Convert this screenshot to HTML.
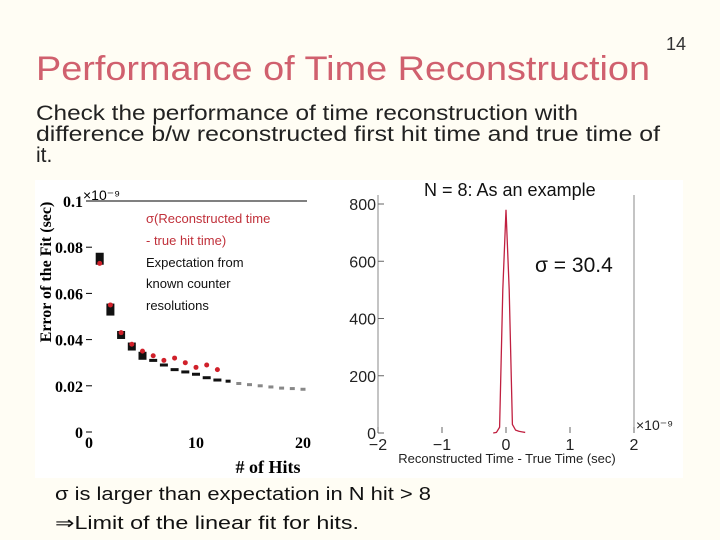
<!DOCTYPE html>
<html><head><meta charset="utf-8"><style>
body{margin:0;background:#fffdf4;}
svg{display:block;font-family:"Liberation Sans",sans-serif;}
</style></head><body>
<svg id="s" width="720" height="540" viewBox="0 0 720 540">
<rect width="720" height="540" fill="#fffdf4"/>
<text x="666" y="50" font-size="18" fill="#333">14</text>
<text x="36" y="80" font-size="34" fill="#d0606e" textLength="614" lengthAdjust="spacingAndGlyphs">Performance of Time Reconstruction</text>
<g font-size="21" fill="#222">
<text x="36" y="120" textLength="542" lengthAdjust="spacingAndGlyphs">Check the performance of time reconstruction with</text>
<text x="36" y="141" textLength="624" lengthAdjust="spacingAndGlyphs">difference b/w reconstructed first hit time and true time of</text>
<text x="36" y="162">it.</text>
</g>
<rect x="35" y="180" width="648" height="298" fill="#fff"/>
<g id="left"></g>
<g id="right"></g>
<text x="424" y="196" font-size="18" fill="#111">N = 8: As an example</text>
<text x="535" y="272" font-size="21" fill="#111">σ = 30.4</text>
<g font-size="18" fill="#111">
<text x="55" y="500" textLength="376" lengthAdjust="spacingAndGlyphs">σ is larger than expectation in N hit &gt; 8</text>
<text x="55" y="529" textLength="304" lengthAdjust="spacingAndGlyphs">⇒Limit of the linear fit for hits.</text>
</g>
</svg>
<script>
const hitsRed=[1,2,3,4,5,6,7,8,9,10,11,12];
const sigmaRed=[0.073,0.055,0.043,0.038,0.035,0.033,0.031,0.032,0.030,0.028,0.029,0.027];
const hitsExp=[1,2,3,4,5,6,7,8,9,10,11,12,13,14,15,16,17,18,19,20];
const sigmaExp=[0.075,0.053,0.042,0.037,0.033,0.031,0.029,0.027,0.026,0.025,0.0235,0.0225,0.022,0.021,0.0205,0.020,0.0195,0.019,0.0188,0.0185];
const yTicksL=[0,0.02,0.04,0.06,0.08,0.1];
const xTicksL=[0,10,20];
const binCenters=[-0.15,-0.1,-0.05,0,0.05,0.1,0.15,0.2,0.25,0.3];
const binCounts=[2,20,500,780,500,30,10,6,4,2];
const yTicksR=[0,200,400,600,800];
const xTicksR=[-2,-1,0,1,2];
const NS='http://www.w3.org/2000/svg';
function mk(p,t,a,txt){const e=document.createElementNS(NS,t);for(const k in a)e.setAttribute(k,a[k]);if(txt!==undefined)e.textContent=txt;p.appendChild(e);return e;}
const L=document.getElementById('left');
const lx=v=>89+v*(303-89)/20, ly=v=>432-v*(432-201)/0.1;
mk(L,'line',{x1:89,y1:201,x2:307,y2:201,stroke:'#000','stroke-width':1});
yTicksL.forEach(v=>{const t=mk(L,'text',{x:83,y:ly(v)+6,'font-size':16,'font-weight':'bold','font-family':'Liberation Serif','text-anchor':'end'},String(v));
mk(L,'line',{x1:86,x2:92,y1:ly(v),y2:ly(v),stroke:'#000'});});
xTicksL.forEach(v=>{const t=mk(L,'text',{x:lx(v),y:448,'font-size':16,'font-weight':'bold','font-family':'Liberation Serif','text-anchor':'middle'},String(v));});
mk(L,'text',{x:83,y:200,'font-size':14,'font-family':'Liberation Sans'},'×10⁻⁹');
const yt=mk(L,'text',{x:0,y:0,'font-size':16,'font-weight':'bold','font-family':'Liberation Serif','text-anchor':'middle',transform:'translate(51,272) rotate(-90)'},'Error of the Fit (sec)');

const xt=mk(L,'text',{x:268,y:473,'font-size':18,'font-weight':'bold','font-family':'Liberation Serif','text-anchor':'middle'},'# of  Hits');

hitsExp.forEach((h,i)=>{const w=h<6?8:(h<13?8:5),hh=h<3?12:(h<6?8:3);const r=mk(L,'rect',{x:lx(h)-w/2,y:ly(sigmaExp[i])-hh/2,width:w,height:hh,fill:h<14?'#111':'#888'});});
hitsRed.forEach((h,i)=>{const c=mk(L,'circle',{cx:lx(h),cy:ly(sigmaRed[i]),r:2.5,fill:'#d0202a'});});
const lg=mk(L,'g',{'font-size':13,'font-family':'Liberation Sans'});
mk(lg,'text',{x:146,y:223,fill:'#c0303a'},'σ(Reconstructed time');
mk(lg,'text',{x:146,y:245,fill:'#c0303a'},'- true hit time)');
mk(lg,'text',{x:146,y:267,fill:'#111'},'Expectation from');
mk(lg,'text',{x:146,y:288,fill:'#111'},'known counter');
mk(lg,'text',{x:146,y:310,fill:'#111'},'resolutions');
const R=document.getElementById('right');
const rx=v=>378+(v+2)*(634-378)/4, ry=v=>433-v*(433-204)/800;
mk(R,'line',{x1:378,y1:195,x2:378,y2:433,stroke:'#888'});
mk(R,'line',{x1:634,y1:195,x2:634,y2:433,stroke:'#888'});
yTicksR.forEach(v=>{const t=mk(R,'text',{x:376,y:ry(v)+6,'font-size':16,'text-anchor':'end',fill:'#222'},String(v));mk(R,'line',{x1:378,x2:384,y1:ry(v),y2:ry(v),stroke:'#666'});});
xTicksR.forEach(v=>{const t=mk(R,'text',{x:rx(v),y:450,'font-size':16,'text-anchor':'middle',fill:'#222'},v<0?'−'+(-v):String(v));mk(R,'line',{x1:rx(v),x2:rx(v),y1:427,y2:433,stroke:'#666'});});
mk(R,'text',{x:636,y:430,'font-size':14,fill:'#222'},'×10⁻⁹');
const rxt=mk(R,'text',{x:507,y:463,'font-size':13,'text-anchor':'middle',fill:'#222'},'Reconstructed Time - True Time (sec)');

const pts=binCenters.map((c,i)=>rx(c)+','+ry(binCounts[i])).join(' ');
const pl=mk(R,'polyline',{points:rx(-0.2)+','+ry(0)+' '+pts,fill:'none',stroke:'#c02040','stroke-width':1.3});

</script>
</body></html>
